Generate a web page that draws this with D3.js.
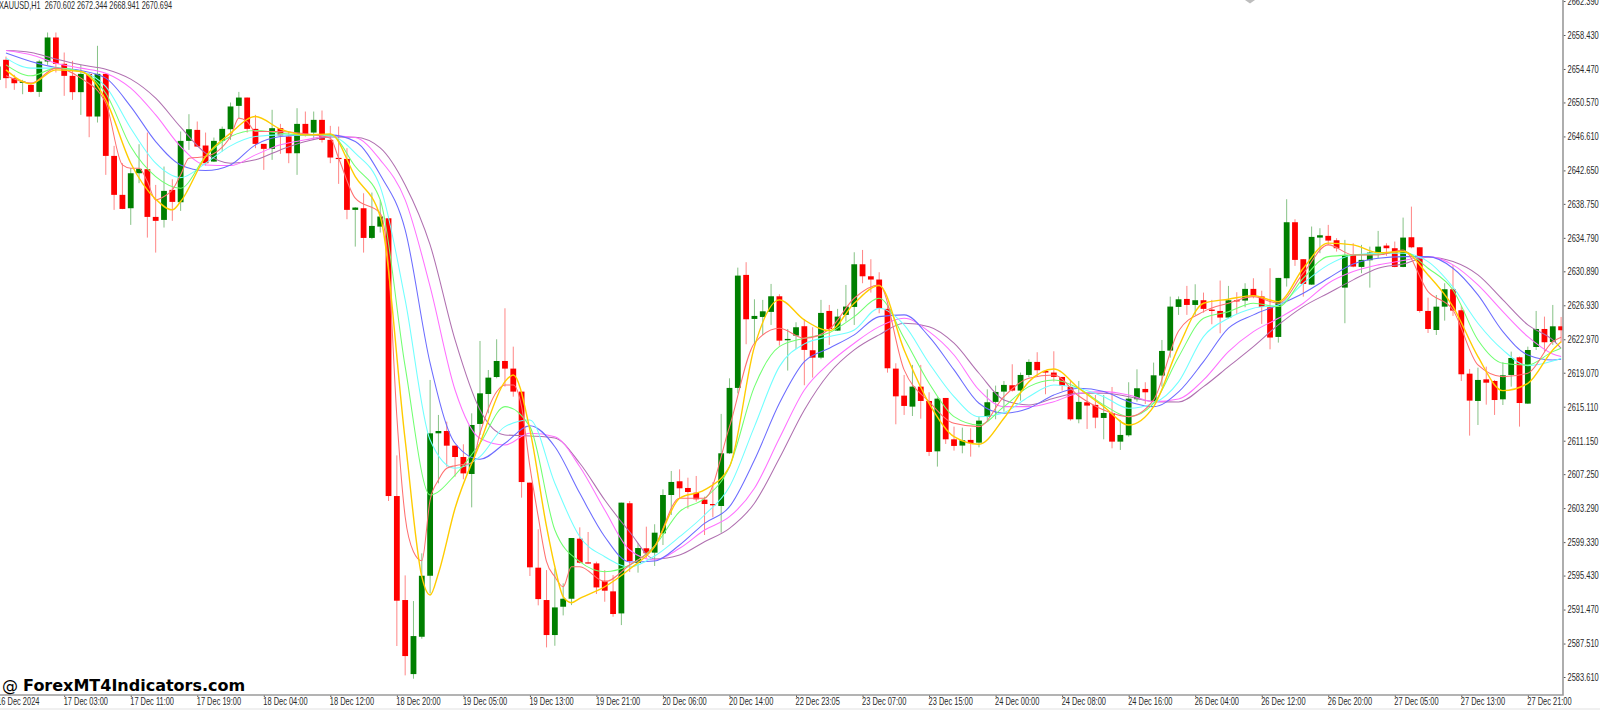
<!DOCTYPE html>
<html>
<head>
<meta charset="utf-8">
<script src="https://cdn.jsdelivr.net/npm/d3@7"></script>
<style>
  html, body { margin: 0; padding: 0; background: #fff; overflow: hidden; }
  svg { display: block; }
  .tick text, .hdr { font-family: "Liberation Sans", sans-serif; font-size: 10.4px; fill: #2a2a2a; }
  .brand { font-family: "DejaVu Sans", sans-serif; fill: #000; }
</style>
</head>
<body>
<svg id="chart" width="1600" height="710"></svg>
<script>
var header_text = "XAUUSD,H1  2670.602 2672.344 2668.941 2670.694";

var price_ticks = [2662.39, 2658.43, 2654.47, 2650.57, 2646.61, 2642.65, 2638.75, 2634.79, 2630.89, 2626.93, 2622.97,
  2619.07, 2615.11, 2611.15, 2607.25, 2603.29, 2599.33, 2595.43, 2591.47, 2587.51, 2583.61];

var time_labels = ["16 Dec 2024", "17 Dec 03:00", "17 Dec 11:00", "17 Dec 19:00", "18 Dec 04:00", "18 Dec 12:00", "18 Dec 20:00",
  "19 Dec 05:00", "19 Dec 13:00", "19 Dec 21:00", "20 Dec 06:00", "20 Dec 14:00", "22 Dec 23:05", "23 Dec 07:00", "23 Dec 15:00",
  "24 Dec 00:00", "24 Dec 08:00", "24 Dec 16:00", "26 Dec 04:00", "26 Dec 12:00", "26 Dec 20:00", "27 Dec 05:00", "27 Dec 13:00", "27 Dec 21:00"];

var opens = [2653.20,2655.54,2653.40,2652.85,2652.62,2651.80,2655.34,2658.14,2655.07,2653.67,
  2651.77,2653.90,2648.93,2653.90,2644.34,2639.80,2638.24,2642.32,2642.79,2637.23,
  2636.88,2640.38,2638.94,2646.09,2647.37,2645.55,2643.68,2646.09,2647.45,2650.17,
  2651.14,2647.49,2645.74,2645.16,2647.57,2646.60,2644.65,2648.07,2647.06,2648.54,
  2646.21,2644.11,2643.99,2638.05,2638.24,2634.78,2636.10,2637.07,2604.70,2592.58,
  2583.95,2588.30,2595.41,2612.01,2612.28,2610.57,2609.25,2607.27,2613.10,2616.59,
  2618.57,2620.44,2619.55,2616.87,2606.26,2596.35,2592.58,2588.50,2591.80,2592.73,
  2599.73,2596.97,2596.85,2594.83,2593.59,2591.02,2603.86,2596.90,2598.61,2598.10,
  2600.35,2604.82,2606.42,2605.64,2605.09,2604.28,2603.77,2603.54,2609.68,2617.30,
  2630.47,2625.34,2625.57,2626.16,2627.98,2622.85,2623.40,2624.49,2621.69,2620.83,
  2626.27,2623.98,2625.81,2626.74,2631.71,2630.31,2629.93,2626.51,2619.55,2616.40,
  2615.12,2617.45,2615.78,2609.91,2616.13,2611.31,2610.58,2611.24,2610.92,2613.92,
  2615.67,2616.87,2617.61,2616.99,2618.81,2620.33,2619.28,2619.09,2618.58,2617.41,
  2613.64,2615.63,2615.32,2613.80,2614.38,2611.04,2611.78,2615.98,2617.18,2615.74,
  2618.74,2621.65,2626.74,2627.67,2626.97,2627.52,2626.43,2626.27,2625.50,2627.52,
  2627.48,2628.84,2627.96,2626.70,2623.24,2630.08,2636.61,2632.30,2629.34,2634.82,
  2635.02,2634.51,2628.99,2632.80,2631.40,2632.18,2633.07,2633.89,2633.58,2631.40,
  2634.86,2633.69,2626.27,2624.05,2626.77,2628.80,2626.35,2618.96,2615.78,2618.30,
  2618.11,2615.97,2618.81,2620.87,2615.47,2622.07,2624.17,2622.66,2624.48];

var highs = [2655.34,2655.92,2653.79,2653.20,2652.89,2655.54,2658.72,2658.72,2656.39,2655.42,
  2654.95,2653.98,2657.17,2653.98,2645.51,2643.49,2642.91,2645.70,2647.06,2640.96,
  2643.10,2641.62,2647.18,2649.20,2648.35,2647.06,2646.48,2647.76,2650.56,2651.80,
  2651.14,2649.12,2645.74,2649.71,2648.07,2647.18,2649.90,2649.51,2649.51,2649.63,
  2647.84,2647.76,2645.24,2638.36,2639.99,2640.07,2639.21,2637.27,2609.44,2595.45,
  2592.46,2598.02,2618.23,2614.15,2613.37,2610.57,2610.73,2614.34,2622.77,2619.39,
  2622.97,2626.58,2622.11,2616.87,2606.26,2600.82,2596.07,2596.27,2594.52,2599.81,
  2601.05,2600.51,2597.05,2596.07,2595.49,2603.93,2604.12,2599.23,2601.13,2601.41,
  2605.48,2607.62,2607.81,2606.84,2607.04,2604.63,2606.30,2614.27,2618.42,2631.32,
  2631.95,2627.63,2627.56,2629.42,2628.22,2624.17,2624.95,2625.30,2624.37,2627.56,
  2626.97,2626.51,2629.30,2633.11,2633.38,2632.30,2630.78,2626.97,2620.17,2618.81,
  2619.98,2619.98,2616.79,2616.21,2616.13,2612.79,2612.67,2612.60,2613.96,2617.14,
  2617.57,2618.11,2620.06,2619.09,2620.64,2621.46,2619.28,2621.57,2618.58,2618.23,
  2618.11,2616.68,2616.48,2616.48,2617.41,2613.57,2617.96,2619.47,2617.96,2620.25,
  2622.89,2627.94,2627.96,2629.19,2629.38,2628.41,2627.56,2629.81,2629.19,2628.45,
  2629.50,2630.08,2628.63,2631.25,2630.12,2639.29,2636.96,2632.30,2636.11,2635.91,
  2636.30,2634.75,2634.55,2634.16,2633.97,2633.77,2635.60,2634.16,2634.36,2637.15,
  2638.43,2633.69,2627.82,2628.13,2629.50,2631.63,2626.85,2619.51,2619.66,2619.78,
  2618.23,2620.29,2621.53,2620.95,2622.11,2626.27,2625.61,2626.97,2625.57];

var lows = [2652.23,2652.23,2652.04,2651.53,2651.73,2651.22,2654.95,2654.06,2651.34,2650.87,
  2649.12,2646.52,2648.23,2642.13,2638.05,2638.13,2636.30,2641.16,2634.82,2633.07,
  2635.99,2636.77,2637.93,2645.04,2645.39,2643.22,2643.64,2644.85,2646.21,2648.73,
  2647.06,2645.24,2642.71,2643.88,2644.58,2643.49,2642.13,2646.60,2646.21,2645.90,
  2643.49,2641.08,2636.96,2633.77,2633.07,2634.63,2635.41,2604.12,2587.22,2583.80,
  2583.41,2588.07,2593.35,2606.18,2608.12,2606.96,2606.65,2603.38,2611.81,2614.34,
  2618.42,2617.45,2616.28,2604.51,2595.38,2591.96,2587.06,2587.25,2590.79,2591.99,
  2596.85,2596.81,2593.28,2592.38,2590.63,2589.66,2595.85,2595.77,2597.48,2596.55,
  2598.99,2602.49,2604.43,2603.23,2604.05,2600.16,2602.22,2600.43,2609.60,2616.67,
  2622.39,2622.39,2623.47,2624.64,2622.23,2619.32,2621.84,2617.61,2618.50,2620.64,
  2622.31,2623.94,2625.03,2624.64,2629.50,2628.41,2626.00,2619.08,2613.06,2614.15,
  2614.03,2613.72,2609.37,2608.13,2610.77,2609.99,2609.68,2609.29,2610.38,2613.57,
  2613.65,2614.54,2616.87,2615.82,2618.54,2618.70,2616.56,2618.04,2616.99,2613.49,
  2613.18,2612.52,2612.60,2611.31,2610.26,2610.07,2611.62,2615.70,2615.43,2615.59,
  2617.45,2620.83,2625.81,2625.81,2625.81,2626.08,2624.72,2623.67,2625.42,2625.92,
  2626.70,2627.75,2624.76,2621.80,2622.58,2629.11,2631.52,2627.94,2629.30,2633.00,
  2633.97,2633.19,2624.84,2631.36,2630.67,2628.99,2632.41,2632.69,2631.36,2631.36,
  2633.58,2626.08,2623.70,2623.47,2625.14,2625.69,2618.11,2611.74,2612.98,2615.35,
  2614.15,2615.31,2617.45,2612.79,2615.43,2621.72,2621.53,2622.31,2622.58];

var closes = [2654.76,2653.40,2652.81,2653.01,2651.80,2655.34,2658.14,2655.07,2653.67,2651.77,
  2653.90,2648.93,2653.90,2644.34,2639.80,2638.16,2642.32,2642.83,2637.23,2636.77,
  2640.26,2638.98,2646.09,2647.45,2645.43,2643.49,2646.09,2647.49,2650.10,2651.14,
  2647.49,2645.74,2645.16,2647.57,2646.71,2644.65,2648.07,2646.91,2648.54,2646.21,
  2644.15,2643.99,2638.05,2638.32,2634.78,2636.18,2637.27,2604.70,2592.50,2586.05,
  2588.38,2595.41,2612.01,2612.28,2610.57,2609.25,2607.34,2612.98,2616.67,2618.50,
  2620.44,2619.55,2616.87,2606.33,2596.39,2592.69,2588.50,2591.72,2592.73,2599.81,
  2596.93,2596.85,2594.05,2593.67,2590.95,2603.93,2597.13,2598.64,2598.03,2600.43,
  2604.82,2606.34,2605.60,2605.17,2604.32,2603.77,2603.62,2609.68,2617.30,2630.39,
  2625.30,2625.69,2626.23,2627.98,2622.81,2623.01,2624.37,2621.73,2620.83,2626.04,
  2624.17,2625.61,2626.78,2631.71,2630.31,2629.93,2626.58,2619.59,2616.32,2615.20,
  2617.45,2615.78,2609.84,2616.05,2611.31,2610.54,2611.20,2610.87,2613.49,2615.63,
  2616.83,2617.65,2616.99,2618.81,2620.33,2619.36,2619.09,2618.58,2617.53,2613.64,
  2615.67,2615.24,2613.84,2614.38,2611.04,2611.82,2616.05,2617.26,2616.79,2618.77,
  2621.61,2626.78,2627.63,2626.97,2627.52,2626.51,2626.27,2625.50,2627.52,2627.44,
  2628.84,2628.02,2626.74,2623.17,2630.12,2636.61,2632.22,2629.42,2634.90,2635.09,
  2634.47,2633.58,2632.80,2631.44,2632.22,2633.07,2633.77,2633.58,2631.40,2634.82,
  2633.69,2626.27,2624.17,2626.77,2628.80,2626.31,2618.89,2615.82,2618.23,2617.91,
  2615.89,2618.77,2620.79,2615.54,2621.72,2624.17,2622.62,2624.48,2624.02];

var ma_bars = d3.range(1, 188, 3).concat([188]);

var ma_purple = [2656.62,2656.39,2655.62,2654.95,2654.45,2653.29,2651.07,2647.69,2644.66,2643.49,2643.88,2645.04,2646.01,2646.56,2646.52,2645.28,
  2640.96,2633.97,2622.89,2614.73,2611.82,2611.70,2611.47,2608.52,2604.24,2600.51,2597.36,
  2597.83,2599.38,2600.94,2603.86,2609.10,2614.73,2619.01,2621.73,2623.48,
  2624.84,2624.44,2622.51,2619.01,2615.90,2615.32,2616.10,2616.68,2616.68,2616.28,2615.70,2615.66,
  2617.45,2619.78,2622.11,2624.64,2626.78,2628.34,2629.89,2631.25,2631.75,
  2632.53,2632.02,2630.47,2627.56,2624.64,2622.89,2621.92];

var ma_magenta = [2656.62,2656.12,2655.15,2654.57,2653.98,2652.24,2649.12,2645.43,2643.29,2643.21,2644.46,2645.63,2646.21,2646.68,2646.48,2643.88,
  2639.21,2629.11,2617.06,2611.43,2610.65,2612.02,2611.62,2608.12,2603.07,2598.41,2597.25,
  2598.61,2600.74,2602.29,2605.60,2611.43,2617.06,2620.18,2622.51,2624.44,
  2625.42,2623.86,2621.14,2617.06,2615.12,2615.12,2615.70,2616.68,2616.87,2616.48,2615.70,2616.01,
  2618.23,2621.53,2623.86,2625.42,2627.17,2629.50,2630.86,2631.64,2632.14,
  2632.60,2631.64,2629.30,2626.19,2623.28,2621.26,2620.95];

var ma_blue = [2656.32,2655.34,2654.64,2654.29,2653.40,2650.09,2646.01,2643.29,2642.63,2643.29,2645.63,2646.59,2646.79,2646.79,2646.01,2642.13,
  2635.72,2620.18,2610.85,2608.99,2610.85,2612.90,2610.45,2605.02,2599.96,2597.01,2597.13,
  2598.99,2601.52,2603.46,2608.90,2615.51,2620.36,2621.93,2623.48,2625.61,
  2625.81,2623.28,2619.40,2615.51,2614.35,2614.93,2616.48,2617.26,2616.87,2615.70,2615.12,2616.83,
  2620.36,2624.26,2625.81,2626.97,2628.34,2630.09,2631.75,2632.42,2632.60,
  2632.60,2631.25,2628.14,2623.86,2621.14,2620.56,2620.64];

var ma_cyan = [2655.73,2654.57,2654.57,2654.17,2652.42,2647.57,2643.49,2641.81,2643.49,2645.51,2646.59,2646.79,2646.79,2646.68,2644.66,2640.73,
  2627.56,2611.23,2607.94,2609.29,2612.79,2613.57,2606.19,2599.96,2597.63,2596.43,2597.71,
  2599.96,2602.49,2605.79,2612.79,2619.78,2622.43,2623.28,2624.06,2626.59,
  2624.64,2620.18,2616.28,2613.95,2614.42,2616.28,2617.65,2617.26,2616.28,2614.93,2615.51,2618.00,
  2623.28,2625.42,2626.59,2626.97,2629.50,2631.64,2632.80,2633.00,2633.00,
  2632.02,2629.04,2624.84,2621.73,2619.90,2620.44,2620.76];

var ma_green = [2654.95,2653.67,2654.57,2654.17,2651.65,2645.43,2641.93,2640.58,2644.26,2646.59,2647.29,2646.99,2646.79,2646.79,2643.10,2639.21,
  2619.78,2604.82,2607.15,2610.85,2615.12,2612.79,2600.74,2597.05,2595.88,2596.66,2598.88,
  2602.88,2604.44,2608.12,2617.45,2622.11,2623.09,2623.74,2625.61,2627.75,
  2623.09,2617.85,2613.95,2612.98,2615.12,2617.45,2618.23,2617.26,2615.32,2613.95,2615.51,2620.91,
  2625.42,2626.19,2627.17,2626.78,2630.09,2632.60,2632.80,2632.88,2633.19,
  2631.25,2628.72,2622.89,2620.18,2619.98,2621.53,2621.92];

// gold and red turn faster, so they have extra readings around the sharp bends
var ma_gold_bars = [1,4,7,10,13,16,19,21,22,25,28,31,34,37,40,43,46,49,51,52,53,55,58,61,62,64,66,67,68,69,70,73,76,79,
  82,85,88,91,94,97,100,103,106,109,112,115,118,121,124,127,130,133,136,139,142,
  145,148,151,154,157,160,163,166,169,172,175,178,181,184,187,188];

var ma_gold = [2654.37,2652.74,2654.37,2654.17,2650.87,2643.49,2639.30,2638.05,2639.02,2644.26,2646.99,2648.93,2647.46,2646.79,2646.91,2641.93,2637.27,
  2611.23,2595.30,2593.16,2595.69,2603.27,2610.85,2618.03,2618.81,2612.40,2601.13,2596.46,2592.97,2592.27,2592.78,2594.13,2596.20,2598.80,
  2604.44,2605.41,2608.12,2622.11,2627.56,2625.22,2623.98,2627.17,2629.22,
  2621.73,2615.51,2611.62,2610.73,2613.76,2618.03,2619.51,2617.26,2615.12,2612.98,2615.12,2622.08,
  2627.17,2627.64,2628.06,2627.36,2631.25,2634.17,2633.97,2633.07,2633.19,
  2630.47,2626.78,2620.95,2616.98,2617.84,2621.73,2622.69];

var ma_red_bars = [1,4,7,10,13,15,16,17,18,19,20,21,22,23,25,28,29,30,31,34,37,40,41,43,46,47,48,49,50,51,52,53,54,55,57,58,60,61,62,63,64,65,66,67,68,69,70,73,76,79,
  82,85,88,91,94,97,100,103,106,109,112,115,118,121,124,127,130,133,136,139,142,
  145,148,151,154,157,160,163,166,169,172,175,178,181,184,187,188];

var ma_red = [2653.67,2652.82,2654.57,2653.40,2650.49,2643.29,2642.91,2642.91,2641.35,2639.21,2639.60,2640.38,2642.13,2644.07,2644.26,2646.59,2648.74,2648.34,2647.18,2647.18,2646.91,2646.41,2644.07,2639.41,2637.66,
  2631.44,2613.95,2602.29,2598.21,2597.16,2604.24,2606.57,2607.94,2608.24,2608.52,2612.02,2616.86,2617.65,2617.65,2615.12,2608.12,2602.29,2597.05,2595.30,2594.13,2596.46,2596.46,2594.72,2596.66,2598.88,
  2604.44,2604.44,2612.79,2622.51,2624.26,2623.09,2624.14,2627.75,2629.30,
  2619.40,2615.70,2613.18,2612.79,2616.28,2618.43,2618.81,2616.36,2614.73,2613.95,2615.90,2623.94,
  2626.19,2627.17,2627.94,2627.17,2630.67,2633.97,2632.80,2632.80,2633.38,
  2628.52,2626.39,2619.98,2618.61,2619.01,2622.69,2623.21];

var ma_lines = [
  {bars: ma_bars,      values: ma_purple,  color: "#b070b0", width: 1.05},
  {bars: ma_bars,      values: ma_magenta, color: "#ff70ff", width: 1.05},
  {bars: ma_bars,      values: ma_blue,    color: "#6c6cff", width: 1.05},
  {bars: ma_bars,      values: ma_cyan,    color: "#70ffff", width: 1.05},
  {bars: ma_bars,      values: ma_green,   color: "#70ff70", width: 1.05},
  {bars: ma_red_bars,  values: ma_red,     color: "#ff7070", width: 1.05},
  {bars: ma_gold_bars, values: ma_gold,    color: "#ffcc00", width: 1.4}
];

var width = 1600, height = 710;
var plot_right = 1563, plot_bottom = 695;

var x = d3.scaleLinear().domain([0, 188]).range([-2.32, 1561.1]);
var y = d3.scaleLinear().domain([2583.61, 2658.43]).range([677, 35]);

var svg = d3.select("#chart");

svg.append("rect").attr("width", width).attr("height", height).attr("fill", "#fff");
svg.append("rect").attr("y", 708).attr("width", width).attr("height", 2).attr("fill", "#f0f0f0");

svg.append("clipPath").attr("id", "plot_clip")
  .append("rect").attr("width", plot_right).attr("height", plot_bottom);

var plot = svg.append("g").attr("clip-path", "url(#plot_clip)");

var bars = d3.range(opens.length);

// wicks first, bodies on top
plot.selectAll("line.wick")
  .data(bars)
  .join("line")
  .attr("class", "wick")
  .attr("x1", function(d) { return x(d); })
  .attr("x2", function(d) { return x(d); })
  .attr("y1", function(d) { return y(highs[d]); })
  .attr("y2", function(d) { return y(lows[d]); })
  .attr("stroke", function(d) { return closes[d] >= opens[d] ? "#007f00" : "#ff0000"; })
  .attr("stroke-opacity", 0.48)
  .attr("stroke-width", 1);

plot.selectAll("rect.body")
  .data(bars)
  .join("rect")
  .attr("class", "body")
  .attr("x", function(d) { return x(d) - 2.9; })
  .attr("width", 5.8)
  .attr("y", function(d) { return y(Math.max(opens[d], closes[d])); })
  .attr("height", function(d) { return Math.max(1.2, Math.abs(y(opens[d]) - y(closes[d]))); })
  .attr("fill", function(d) { return closes[d] >= opens[d] ? "#007f00" : "#ff0000"; });

function ma_path(line)  {
  return(d3.line()
    .x(function(d, i) { return x(line.bars[i]); })
    .y(function(d) { return y(d); })
    .curve(d3.curveMonotoneX)(line.values));
}

plot.selectAll("path.ma")
  .data(ma_lines)
  .join("path")
  .attr("class", "ma")
  .attr("fill", "none")
  .attr("stroke", function(d) { return d.color; })
  .attr("stroke-width", function(d) { return d.width; })
  .attr("d", ma_path);

// the labels in the picture are narrower than any installed face
function squeeze(selection, factor)  {
  selection.each(function()  {
    var w = this.getComputedTextLength();
    d3.select(this).attr("textLength", w * factor).attr("lengthAdjust", "spacingAndGlyphs");
  });
}

// price axis on the right
var y_axis = d3.axisRight(y)
  .tickValues(price_ticks)
  .tickSize(2)
  .tickPadding(2)
  .tickFormat(d3.format(".3f"));

var y_g = svg.append("g").attr("transform", "translate(" + (plot_right + 0.5) + ",0)").call(y_axis);
y_g.select(".domain").remove();
y_g.selectAll(".tick line").attr("stroke", "#555");

// time axis, one label every 8 bars
var x_axis = d3.axisBottom(x)
  .tickValues(d3.range(0, 185, 8))
  .tickSize(2)
  .tickPadding(1)
  .tickFormat(function(d, i) { return time_labels[i]; });

var x_g = svg.append("g").attr("transform", "translate(0," + plot_bottom + ")").call(x_axis);
x_g.select(".domain").remove();
x_g.selectAll(".tick line").attr("stroke", "#555");
x_g.selectAll(".tick text").attr("text-anchor", "start").attr("dx", -1);

var y_w = y_g.select(".tick text").node().getComputedTextLength();
squeeze(y_g.selectAll(".tick text"), 31.3 / y_w);
var x_w = x_g.selectAll(".tick text").nodes()[1].getComputedTextLength();
squeeze(x_g.selectAll(".tick text"), 44.3 / x_w);

// frame
svg.append("path")
  .attr("d", "M0," + plot_bottom + "H" + plot_right + "V0")
  .attr("fill", "none")
  .attr("stroke", "#9a9a9a")
  .attr("stroke-width", 1.6);

// small grey marker at the top edge
svg.append("path")
  .attr("d", "M1245,0H1255L1250,3.5Z")
  .attr("fill", "#bdbdbd");

var hdr = svg.append("text")
  .attr("class", "hdr")
  .attr("x", -1)
  .attr("y", 9)
  .style("white-space", "pre")
  .text(header_text);
squeeze(hdr, 173 / hdr.node().getComputedTextLength());

var brand = svg.append("text").attr("class", "brand").attr("x", 2).attr("y", 691);
brand.append("tspan").attr("font-size", 16).text("@ ");
brand.append("tspan").attr("font-size", 16).attr("font-weight", "bold").text("ForexMT4Indicators.com");
</script>
</body>
</html>
